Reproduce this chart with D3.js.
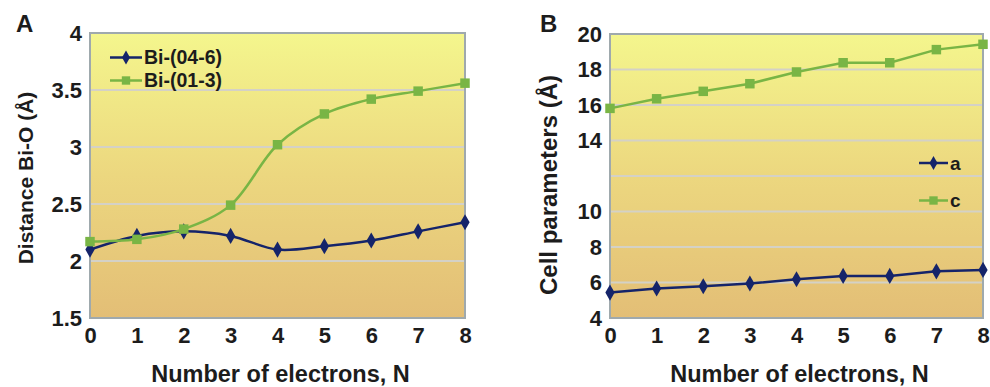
<!DOCTYPE html>
<meta charset="utf-8">
<style>
  body { margin: 0; background: #fff; font-family: "Liberation Sans", Arial, sans-serif; }
  text { font-weight: bold; fill: #1c1c1c; }
  .grid line { stroke: #d4d1c6; stroke-width: 1.8px; }
</style>
<body></body>
<script src="https://d3js.org/d3.v7.min.js"></script>
<script>
  var electrons = [0, 1, 2, 3, 4, 5, 6, 7, 8];

  // panel A: Bi-O distances
  var bi046 = [2.10, 2.22, 2.26, 2.22, 2.10, 2.13, 2.18, 2.26, 2.34];
  var bi013 = [2.17, 2.19, 2.28, 2.49, 3.02, 3.29, 3.42, 3.49, 3.56];
  var ticksA = [1.5, 2, 2.5, 3, 3.5, 4];

  // panel B: cell parameters
  var cellA = [5.43, 5.66, 5.79, 5.94, 6.18, 6.37, 6.37, 6.63, 6.71];
  var cellC = [15.81, 16.35, 16.77, 17.2, 17.86, 18.38, 18.38, 19.12, 19.42];
  var ticksB = [4, 6, 8, 10, 12, 14, 16, 18, 20];
  var labelsB = ["4", "6", "8", "10", "", "14", "16", "18", "20"];

  var navy = "#15246a", green = "#79b545";

  var svg = d3.select("body").append("svg")
    .attr("width", 990)
    .attr("height", 387);

  var defs = svg.append("defs");
  var grad = defs.append("linearGradient")
    .attr("id", "bg")
    .attr("x1", 0).attr("y1", 0).attr("x2", 0).attr("y2", 1);
  grad.append("stop").attr("offset", "0%").attr("stop-color", "#f4f68d");
  grad.append("stop").attr("offset", "50%").attr("stop-color", "#ecd77f");
  grad.append("stop").attr("offset", "100%").attr("stop-color", "#e3be76");

  function panel(opt) {
    var w = opt.right - opt.left, h = opt.bottom - opt.top;
    var g = svg.append("g").attr("transform", "translate(" + opt.left + "," + opt.top + ")");

    var x = d3.scaleLinear().domain([0, 8]).range([0, w]);
    var y = d3.scaleLinear().domain(opt.domain).range([h, 0]);

    g.append("rect")
      .attr("width", w).attr("height", h)
      .attr("fill", "url(#bg)");

    g.append("g").attr("class", "grid")
      .selectAll("line")
      .data(opt.ticks.slice(1, -1))
      .enter().append("line")
      .attr("x1", 0).attr("x2", w)
      .attr("y1", function(d) { return y(d); })
      .attr("y2", function(d) { return y(d); });

    g.append("rect")
      .attr("width", w).attr("height", h)
      .attr("fill", "none")
      .attr("stroke", "#9fa9ad")
      .attr("stroke-width", 2);

    // y ticks
    var yAxis = d3.axisLeft(y).tickValues(opt.ticks).tickSize(0).tickPadding(8)
      .tickFormat(function(d, i) { return opt.labels[i]; });
    var ya = g.append("g").call(yAxis);
    ya.select(".domain").remove();
    ya.selectAll("text").style("font-size", "22px").style("font-family", "Liberation Sans, Arial, sans-serif").attr("fill", "#1c1c1c");

    // x ticks
    var xAxis = d3.axisBottom(x).tickValues(electrons).tickSize(0).tickPadding(9)
      .tickFormat(d3.format("d"));
    var xa = g.append("g").attr("transform", "translate(0," + h + ")").call(xAxis);
    xa.select(".domain").remove();
    xa.selectAll("text").style("font-size", "22px").style("font-family", "Liberation Sans, Arial, sans-serif").attr("fill", "#1c1c1c");

    opt.series.forEach(function(s) {
      var line = d3.line()
        .x(function(d, i) { return x(electrons[i]); })
        .y(function(d) { return y(d); })
        .curve(opt.smooth ? d3.curveCatmullRom.alpha(0.5) : d3.curveLinear);
      g.append("path")
        .datum(s.values)
        .attr("fill", "none")
        .attr("stroke", s.color)
        .attr("stroke-width", 2.5)
        .attr("d", line);
      var sym = d3.symbol().type(s.square ? d3.symbolSquare : d3.symbolDiamond).size(s.square ? 90 : 75);
      g.selectAll(null)
        .data(s.values)
        .enter().append("path")
        .attr("d", sym)
        .attr("fill", s.color)
        .attr("transform", function(d, i) { return "translate(" + x(electrons[i]) + "," + y(d) + ")"; });
    });

    // legend
    opt.series.forEach(function(s, i) {
      var ly = opt.legend.y + i * opt.legend.dy;
      var lx = opt.legend.x;
      svg.append("line")
        .attr("x1", lx).attr("x2", lx + opt.legend.len)
        .attr("y1", ly).attr("y2", ly)
        .attr("stroke", s.color).attr("stroke-width", 2.5);
      svg.append("path")
        .attr("d", d3.symbol().type(s.square ? d3.symbolSquare : d3.symbolDiamond).size(s.square ? 70 : 55))
        .attr("fill", s.color)
        .attr("transform", "translate(" + (lx + opt.legend.len / 2) + "," + ly + ")");
      svg.append("text")
        .attr("x", lx + opt.legend.len + 2).attr("y", ly)
        .attr("dy", "0.35em")
        .style("font-size", opt.legend.size + "px")
        .text(s.name);
    });

    // panel letter
    svg.append("text")
      .attr("x", opt.letterX).attr("y", 32)
      .style("font-size", "24px")
      .text(opt.letter);

    // axis titles
    svg.append("text")
      .attr("text-anchor", "middle")
      .attr("transform", "translate(" + opt.yTitleX + "," + opt.yTitleY + ") rotate(-90)")
      .style("font-size", opt.yTitleSize + "px")
      .text(opt.yTitle);

    svg.append("text")
      .attr("text-anchor", "middle")
      .attr("x", opt.left + w / 2 + 3).attr("y", 382)
      .style("font-size", "23.5px")
      .text("Number of electrons, N");
  }

  panel({
    left: 90, right: 465, top: 33, bottom: 318,
    domain: [1.5, 4], ticks: ticksA, labels: ticksA.map(String),
    smooth: true,
    series: [
      { name: "Bi-(04-6)", values: bi046, color: navy, square: false },
      { name: "Bi-(01-3)", values: bi013, color: green, square: true }
    ],
    legend: { x: 110, y: 57.5, dy: 23, len: 32, size: 19.5 },
    letter: "A", letterX: 16,
    yTitle: "Distance Bi-O (\u00c5)", yTitleX: 33, yTitleY: 178, yTitleSize: 21
  });

  panel({
    left: 610, right: 983, top: 34, bottom: 318,
    domain: [4, 20], ticks: ticksB, labels: labelsB,
    smooth: false,
    series: [
      { name: "a", values: cellA, color: navy, square: false },
      { name: "c", values: cellC, color: green, square: true }
    ],
    legend: { x: 919, y: 163, dy: 37.5, len: 29, size: 19 },
    letter: "B", letterX: 540,
    yTitle: "Cell parameters (\u00c5)", yTitleX: 557, yTitleY: 185, yTitleSize: 24
  });
</script>
